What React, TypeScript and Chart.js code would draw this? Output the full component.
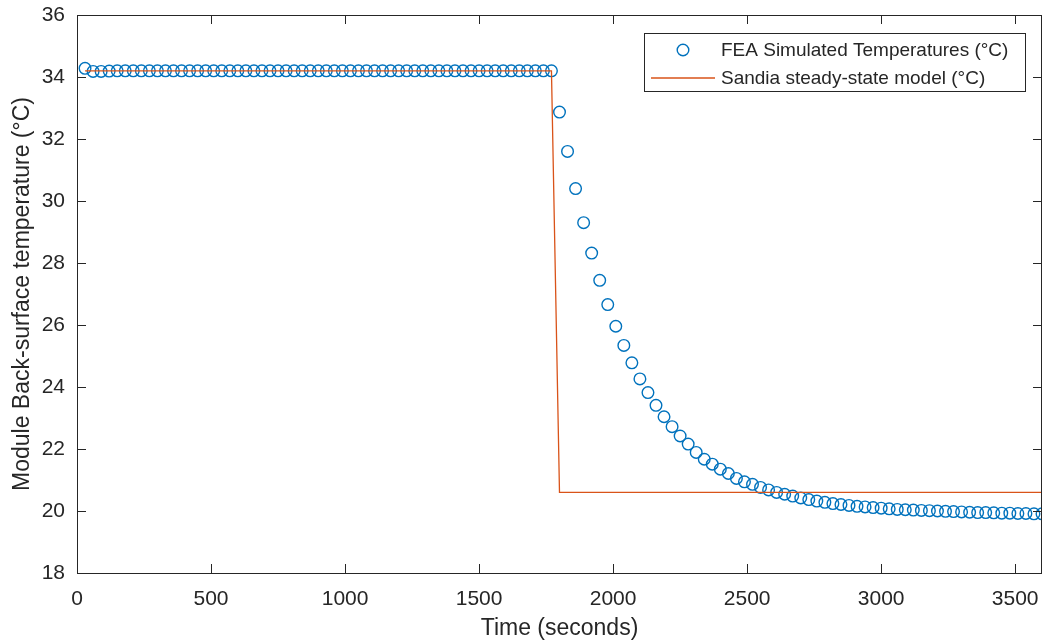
import React, { useEffect, useRef } from "react";
import { Chart, registerables } from "chart.js";

Chart.register(...registerables);

const TIME_S = [
  30, 60, 90, 120, 150, 180, 210, 240, 270, 300,
  330, 360, 390, 420, 450, 480, 510, 540, 570, 600,
  630, 660, 690, 720, 750, 780, 810, 840, 870, 900,
  930, 960, 990, 1020, 1050, 1080, 1110, 1140, 1170, 1200,
  1230, 1260, 1290, 1320, 1350, 1380, 1410, 1440, 1470, 1500,
  1530, 1560, 1590, 1620, 1650, 1680, 1710, 1740, 1770, 1800,
  1830, 1860, 1890, 1920, 1950, 1980, 2010, 2040, 2070, 2100,
  2130, 2160, 2190, 2220, 2250, 2280, 2310, 2340, 2370, 2400,
  2430, 2460, 2490, 2520, 2550, 2580, 2610, 2640, 2670, 2700,
  2730, 2760, 2790, 2820, 2850, 2880, 2910, 2940, 2970, 3000,
  3030, 3060, 3090, 3120, 3150, 3180, 3210, 3240, 3270, 3300,
  3330, 3360, 3390, 3420, 3450, 3480, 3510, 3540, 3570, 3600,
];

const FEA_TEMP = [
  34.28, 34.18, 34.18, 34.19, 34.2, 34.2, 34.2, 34.2, 34.2, 34.2,
  34.2, 34.2, 34.2, 34.2, 34.2, 34.2, 34.2, 34.2, 34.2, 34.2,
  34.2, 34.2, 34.2, 34.2, 34.2, 34.2, 34.2, 34.2, 34.2, 34.2,
  34.2, 34.2, 34.2, 34.2, 34.2, 34.2, 34.2, 34.2, 34.2, 34.2,
  34.2, 34.2, 34.2, 34.2, 34.2, 34.2, 34.2, 34.2, 34.2, 34.2,
  34.2, 34.2, 34.2, 34.2, 34.2, 34.2, 34.2, 34.2, 34.2, 32.87,
  31.6, 30.4, 29.3, 28.32, 27.44, 26.66, 25.96, 25.34, 24.78, 24.26,
  23.82, 23.41, 23.04, 22.72, 22.42, 22.16, 21.89, 21.67, 21.51, 21.35,
  21.21, 21.05, 20.94, 20.86, 20.76, 20.68, 20.6, 20.54, 20.48, 20.42,
  20.37, 20.32, 20.28, 20.24, 20.21, 20.18, 20.15, 20.13, 20.11, 20.09,
  20.07, 20.05, 20.04, 20.03, 20.02, 20.01, 20.0, 19.99, 19.98, 19.97,
  19.96, 19.95, 19.95, 19.94, 19.93, 19.93, 19.92, 19.92, 19.91, 19.91,
];

const SANDIA_TIME = [30, 1770, 1800, 3600];
const SANDIA_TEMP = [34.2, 34.2, 20.6, 20.6];

const X_TICKS = [0, 500, 1000, 1500, 2000, 2500, 3000, 3500];
const Y_TICKS = [18, 20, 22, 24, 26, 28, 30, 32, 34, 36];

const FEA_LABEL = "FEA Simulated Temperatures (°C)";
const SANDIA_LABEL = "Sandia steady-state model (°C)";
const X_TITLE = "Time (seconds)";
const Y_TITLE = "Module Back-surface temperature (°C)";

const BLUE = "rgb(0,114,189)";
const ORANGE = "rgb(217,83,25)";
const TEXT = "#262626";
const FONT = "'Liberation Sans', Arial, Helvetica, sans-serif";

const boxPlugin = {
  id: "matlabBox",
  afterDraw(chart: any) {
    const { ctx, chartArea } = chart;
    const { left, right, top, bottom } = chartArea;
    const xs = chart.scales.x;
    const ys = chart.scales.y;
    const tl = 9;
    ctx.save();
    ctx.strokeStyle = TEXT;
    ctx.lineWidth = 1;
    ctx.beginPath();
    for (const t of X_TICKS) {
      const px = Math.round(xs.getPixelForValue(t)) + 0.5;
      ctx.moveTo(px, bottom);
      ctx.lineTo(px, bottom - tl);
      ctx.moveTo(px, top);
      ctx.lineTo(px, top + tl);
    }
    for (const t of Y_TICKS) {
      const py = Math.round(ys.getPixelForValue(t)) + 0.5;
      ctx.moveTo(left, py);
      ctx.lineTo(left + tl, py);
      ctx.moveTo(right, py);
      ctx.lineTo(right - tl, py);
    }
    ctx.stroke();
    ctx.strokeRect(Math.round(left) + 0.5, Math.round(top) + 0.5, Math.round(right - left) - 1, Math.round(bottom - top));

    // legend
    const bx = 644.5;
    const by = 33.5;
    const bw = 381;
    const bh = 58;
    ctx.fillStyle = "#ffffff";
    ctx.fillRect(bx, by, bw, bh);
    ctx.strokeStyle = TEXT;
    ctx.strokeRect(bx, by, bw, bh);

    const row1 = 50;
    const row2 = 78;
    ctx.strokeStyle = BLUE;
    ctx.lineWidth = 1.4;
    ctx.beginPath();
    ctx.arc(683, row1, 5.8, 0, Math.PI * 2);
    ctx.stroke();

    ctx.strokeStyle = ORANGE;
    ctx.lineWidth = 1.3;
    ctx.beginPath();
    ctx.moveTo(651, row2);
    ctx.lineTo(715, row2);
    ctx.stroke();

    ctx.fillStyle = TEXT;
    ctx.font = `19px ${FONT}`;
    ctx.textBaseline = "middle";
    ctx.textAlign = "left";
    ctx.fillText(FEA_LABEL, 721, row1 + 1);
    ctx.fillText(SANDIA_LABEL, 721, row2 + 1);
    ctx.restore();
  },
};

const zeroPad = (s: any) => {
  s.paddingLeft = 0;
  s.paddingRight = 0;
  s.paddingTop = 0;
  s.paddingBottom = 0;
};

export default function App() {
  const ref = useRef<HTMLCanvasElement>(null);
  useEffect(() => {
    if (!ref.current) return;
    const chart = new Chart(ref.current, {
      type: "line",
      data: {
        datasets: [
          {
            label: FEA_LABEL,
            data: TIME_S.map((t, i) => ({ x: t, y: FEA_TEMP[i] })),
            showLine: false,
            pointStyle: "circle",
            pointRadius: 5.8,
            pointBorderWidth: 1.4,
            pointBorderColor: BLUE,
            pointBackgroundColor: "rgba(0,0,0,0)",
            borderColor: BLUE,
            order: 2,
          },
          {
            label: SANDIA_LABEL,
            data: SANDIA_TIME.map((t, i) => ({ x: t, y: SANDIA_TEMP[i] })),
            borderColor: ORANGE,
            borderWidth: 1.3,
            pointRadius: 0,
            tension: 0,
            fill: false,
            order: 1,
          },
        ],
      },
      options: {
        animation: false,
        responsive: false,
        events: [],
        layout: { autoPadding: false, padding: { left: 0, right: 2, top: 15, bottom: 0 } },
        plugins: {
          legend: { display: false },
          tooltip: { enabled: false },
        },
        scales: {
          x: {
            type: "linear",
            min: 0,
            max: 3600,
            afterBuildTicks: (s: any) => {
              s.ticks = X_TICKS.map((v) => ({ value: v }));
            },
            afterFit: (s: any) => {
              s.height = 70;
              zeroPad(s);
            },
            ticks: {
              autoSkip: false,
              maxRotation: 0,
              color: TEXT,
              padding: 14,
              font: { family: FONT, size: 21 },
              callback: (v: any) => String(v),
            },
            grid: { display: false, drawTicks: false },
            border: { display: false },
            title: {
              display: true,
              text: X_TITLE,
              color: TEXT,
              font: { family: FONT, size: 23 },
              padding: { top: 0, bottom: 1 },
            },
          },
          y: {
            type: "linear",
            min: 18,
            max: 36,
            afterBuildTicks: (s: any) => {
              s.ticks = Y_TICKS.map((v) => ({ value: v }));
            },
            afterFit: (s: any) => {
              s.width = 77;
              zeroPad(s);
            },
            ticks: {
              autoSkip: false,
              color: TEXT,
              padding: 12,
              font: { family: FONT, size: 21 },
              callback: (v: any) => String(v),
            },
            grid: { display: false, drawTicks: false },
            border: { display: false },
            title: {
              display: true,
              text: Y_TITLE,
              color: TEXT,
              font: { family: FONT, size: 23 },
              padding: { top: 9, bottom: 0 },
            },
          },
        },
      },
      plugins: [boxPlugin],
    });
    return () => chart.destroy();
  }, []);
  return (
    <div style={{ position: "absolute", left: 0, top: 0, width: 1044, height: 643, background: "#fff" }}>
      <canvas ref={ref} width={1044} height={643} style={{ display: "block" }} />
    </div>
  );
}
